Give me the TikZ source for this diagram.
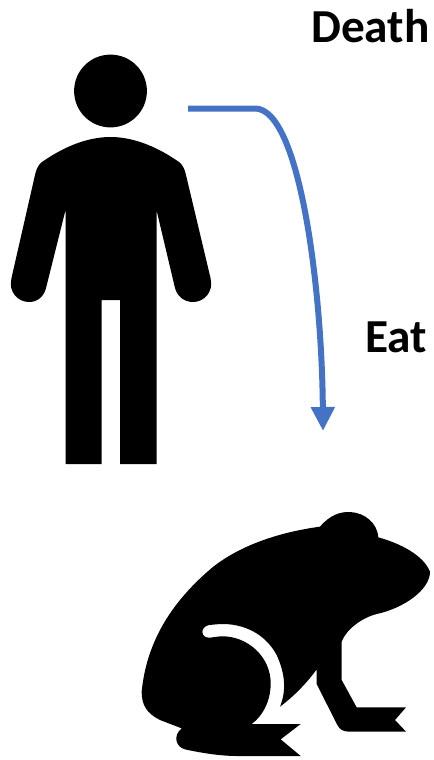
\documentclass[tikz,border=0pt]{standalone}
\usepackage{fontspec}
\setmainfont{Carlito}
\usetikzlibrary{arrows.meta}
\definecolor{flowblue}{HTML}{4472C4}
\tikzset{
  lbl/.style={font=\fontsize{35.5}{40}\selectfont\bfseries, anchor=base west, inner sep=0pt, text=black},
  sil/.style={fill=black, draw=none},
  flow/.style={draw=flowblue, line width=4.5pt, -{Triangle[length=18pt,width=17pt]}}
}
\begin{document}
\begin{tikzpicture}[x=0.75pt,y=-0.75pt]
\useasboundingbox (0,0) rectangle (434,760);
% person
\fill[sil] (110.5,91) circle[radius=36.4];
\fill[sil] (110.5,137)
  .. controls (86,137) and (62,148) .. (42,162)
  .. controls (38,165) and (36,170) .. (35,175)
  -- (11.5,278)
  .. controls (8,292) and (18,302) .. (29,302)
  .. controls (38,302) and (44,296) .. (46,288)
  -- (65.5,210) -- (65.5,464) -- (101.7,464) -- (101.7,300) -- (120,300) -- (120,464) -- (156.5,464) -- (156.5,210)
  -- (175,288)
  .. controls (177,296) and (184,302) .. (193,302)
  .. controls (204,302) and (214,292) .. (210.5,278)
  -- (186,175)
  .. controls (185,170) and (183,165) .. (179,162)
  .. controls (159,148) and (135,137) .. (110.5,137) -- cycle;
% arrow
\coordinate (arrowstart) at (188,108.5);
\coordinate (arrowend) at (323,431);
\draw[flow] (arrowstart) -- (255,108.5)
  .. controls (300,108.5) and (322,290) .. (arrowend);
% frog
\begin{scope}[shift={(130,500)},x=0.25pt,y=-0.25pt]
\fill[sil] (570,80)
  .. controls (600,45) and (630,35) .. (660,36)
  .. controls (705,38) and (742,70) .. (745,112)
  .. controls (810,130) and (880,165) .. (900,215)
  .. controls (900,270) and (820,325) .. (740,342)
  .. controls (700,352) and (650,385) .. (635,425)
  -- (635,540) -- (680,622) -- (828,622) -- (795,660) -- (828,695) -- (660,695)
  .. controls (640,695) and (630,690) .. (622,675)
  -- (560,552) -- (560,508)
  .. controls (530,550) and (490,590) .. (450,620)
  .. controls (470,570) and (465,520) .. (440,465)
  .. controls (405,400) and (340,370) .. (270,372)
  -- (237,375)
  .. controls (210,380) and (210,415) .. (240,413)
  -- (270,409)
  .. controls (350,405) and (425,470) .. (422,555)
  .. controls (420,610) and (395,650) .. (365,672)
  -- (512,672) -- (452,718) -- (512,768) -- (320,768)
  .. controls (270,768) and (210,758) .. (165,748)
  .. controls (135,740) and (130,705) .. (155,685)
  -- (90,660)
  .. controls (50,640) and (35,615) .. (35,575)
  .. controls (50,420) and (130,300) .. (250,200)
  .. controls (340,130) and (460,95) .. (570,80) -- cycle;
\end{scope}
% labels
\node[lbl] (death) at (311,42) {Death};
\node[lbl] (eat) at (365,352) {Eat};
\end{tikzpicture}
\end{document}
